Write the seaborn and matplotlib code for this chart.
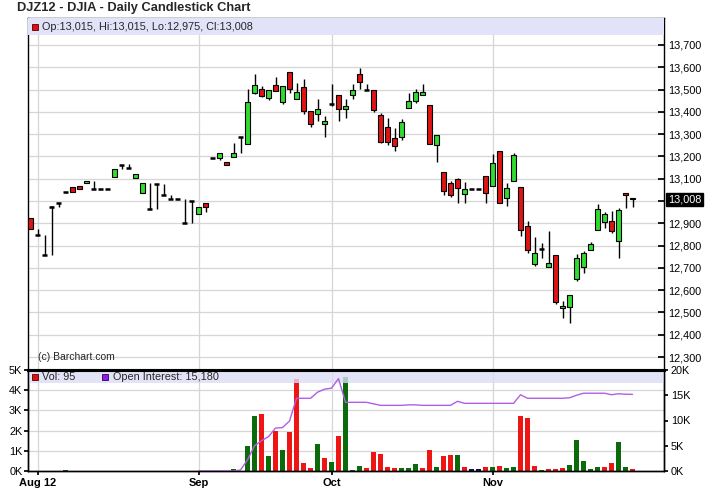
import numpy as np
import pandas as pd
import seaborn as sns
import matplotlib
matplotlib.use("Agg")
import matplotlib.pyplot as plt
from matplotlib.patches import Rectangle
from matplotlib.transforms import blended_transform_factory

# daily OHLC, Jul 31 .. Nov 30 2012 (trading days, Sandy days included as flat)
opens = [12922, 12850, 12760, 12976, 12990, 13040, 13062, 13068, 13080, 13055,
         13054, 13054, 13106, 13163, 13147, 13102, 13035, 12964, 13076, 13027,
         13008, 13008, 12903, 13000, 12942, 12990, 13194, 13194, 13174, 13196,
         13286, 13254, 13486, 13501, 13461, 13521, 13446, 13578, 13456, 13510,
         13404, 13389, 13344, 13437, 13476, 13412, 13474, 13569, 13499, 13498,
         13386, 13333, 13281, 13286, 13416, 13450, 13474, 13431, 13251, 13129,
         13080, 13099, 13030, 13052, 13052, 13114, 13069, 13224, 13012, 13088,
         13062, 12888, 12716, 12785, 12706, 12758, 12519, 12526, 12649, 12705,
         12780, 12870, 12905, 12910, 12821, 13035, 13015]
highs = [12922, 12873, 12848, 12978, 12990, 13040, 13062, 13068, 13088, 13088,
         13054, 13054, 13142, 13163, 13166, 13120, 13080, 13080, 13076, 13076,
         13027, 13008, 13008, 13000, 12972, 12990, 13194, 13217, 13174, 13262,
         13286, 13501, 13570, 13516, 13498, 13558, 13516, 13578, 13528, 13546,
         13404, 13456, 13381, 13525, 13476, 13456, 13525, 13595, 13525, 13498,
         13394, 13371, 13329, 13367, 13483, 13501, 13525, 13431, 13296, 13129,
         13090, 13105, 13084, 13052, 13052, 13114, 13211, 13224, 13082, 13214,
         13062, 12910, 12838, 12813, 12867, 12758, 12553, 12578, 12761, 12776,
         12816, 12987, 12951, 12955, 12967, 13035, 13015]
lows = [12873, 12846, 12758, 12758, 12975, 13038, 13040, 13054, 13080, 13054,
        13054, 13054, 13106, 13142, 13147, 13102, 13035, 12963, 12963, 13027,
        13008, 13008, 12903, 12903, 12940, 12952, 13194, 13184, 13160, 13196,
        13217, 13254, 13479, 13465, 13453, 13495, 13434, 13486, 13456, 13390,
        13333, 13359, 13289, 13428, 13359, 13374, 13456, 13501, 13498, 13401,
        13259, 13251, 13226, 13274, 13416, 13441, 13474, 13254, 13176, 13027,
        13017, 12990, 12990, 13052, 13052, 12990, 13069, 12993, 12979, 13088,
        12845, 12765, 12709, 12743, 12706, 12537, 12474, 12455, 12643, 12676,
        12780, 12870, 12878, 12855, 12743, 12967, 12975]
closes = [12873, 12848, 12758, 12975, 12989, 13039, 13040, 13054, 13088, 13054,
          13054, 13054, 13142, 13162, 13147, 13120, 13080, 12963, 13075, 13027,
          13008, 13008, 12903, 13000, 12972, 12975, 13194, 13217, 13160, 13217,
          13286, 13446, 13521, 13471, 13498, 13495, 13516, 13501, 13488, 13405,
          13344, 13414, 13358, 13437, 13412, 13426, 13498, 13535, 13498, 13408,
          13266, 13264, 13247, 13356, 13450, 13490, 13488, 13254, 13296, 13045,
          13026, 13057, 13052, 13052, 13052, 13035, 13169, 12993, 13057, 13207,
          12870, 12780, 12768, 12785, 12721, 12548, 12529, 12578, 12743, 12765,
          12806, 12963, 12940, 12866, 12960, 13026, 13008]
volume_k = [0, 0, 0, 0, 0, 0.03, 0, 0, 0, 0,
            0, 0, 0, 0, 0, 0, 0, 0, 0, 0,
            0, 0, 0, 0, 0, 0, 0, 0, 0, 0.1,
            0, 1.26, 2.71, 2.81, 0.75, 1.98, 1.06, 1.91, 4.54, 0.39,
            0.15, 1.36, 0.65, 0.45, 1.71, 4.66, 0.05, 0.25, 0.15, 0.95,
            0.85, 0.2, 0.17, 0.17, 0.17, 0.35, 0.17, 1.06, 0.22, 0.72,
            0.79, 0.8, 0.22, 0.1, 0.1, 0.2, 0.2, 0.25, 0.17, 0.2,
            2.71, 2.61, 0.25, 0.05, 0.12, 0.12, 0.15, 0.3, 1.51, 0.5,
            0.1, 0.2, 0.2, 0.4, 1.46, 0.2, 0.095]
oi_first_day = 24
open_interest_k = [0, 0, 0, 0, 0, 0, 0.2, 2.2, 5.0, 6.0,
                   6.8, 8.5, 8.6, 9.9, 14.4, 14.4, 14.4, 15.6, 16.2, 16.4,
                   18.3, 13.6, 13.6, 13.6, 13.6, 13.3, 13.0, 13.0, 13.0, 13.0,
                   13.1, 13.1, 13.0, 13.0, 13.0, 13.0, 13.0, 13.8, 13.4, 13.4,
                   13.4, 13.4, 13.4, 13.4, 13.4, 13.4, 15.1, 14.4, 14.4, 14.4,
                   14.4, 14.4, 14.4, 14.5, 15.0, 15.4, 15.4, 15.4, 15.4, 15.1,
                   15.3, 15.2, 15.18]

month_days = [1, 24, 43, 66]
month_labels = ["Aug 12", "Sep", "Oct", "Nov"]
price_ticks = [12300, 12400, 12500, 12600, 12700, 12800, 12900, 13000,
               13100, 13200, 13300, 13400, 13500, 13600, 13700]
last_price = 13008

sns.set_theme(style="white")
plt.rcParams['font.family'] = ['Liberation Sans', 'DejaVu Sans']

df = pd.DataFrame({"open": opens, "high": highs, "low": lows, "close": closes, "vol": volume_k})
df["day"] = np.arange(len(df))
chg = df["close"].diff().fillna(-1)
df["vcolor"] = np.where(chg > 0, "#0b6b0b", np.where(chg < 0, "#ee1515", "#101050"))

GRID = "#d6d6d6"
fig = plt.figure(figsize=(7.11, 4.94), dpi=100)
ax = fig.add_axes([28 / 711, 1 - 370 / 494, 636 / 711, 352 / 494])
axv = fig.add_axes([28 / 711, 1 - 471 / 494, 636 / 711, 101 / 494])

# ---- price panel
ax.set_xlim(-0.36, 90.5)
ax.set_ylim(12242, 13821)
for p in price_ticks:
    ax.axhline(p, color=GRID, lw=0.9, zorder=0)
for d in month_days:
    ax.axvline(d, color=GRID, lw=0.9, zorder=0)

ax.vlines(df["day"], df["low"], df["high"], color="black", lw=1, zorder=2)
body = df[(df["close"] - df["open"]).abs() >= 4]
flat = df[(df["close"] - df["open"]).abs() < 4]
up = body["close"] > body["open"]
ax.bar(body["day"], (body["close"] - body["open"]).abs(),
       bottom=body[["open", "close"]].min(axis=1), width=0.72,
       color=np.where(up, "#2fdc2f", "#e01414"), edgecolor="black",
       linewidth=0.8, zorder=3)
ax.hlines(flat["close"], flat["day"] - 0.4, flat["day"] + 0.4, color="black", lw=1.8, zorder=3)

ax.yaxis.tick_right()
ax.set_yticks(price_ticks)
ax.set_yticklabels(["" if p == 13000 else f"{p:,}" for p in price_ticks])
ax.tick_params(axis="y", direction="in", length=4, labelsize=7.8, pad=3, right=True, colors="black")
ax.set_xticks([])
for s in ax.spines.values():
    s.set_color("black")
    s.set_linewidth(1)

trans = blended_transform_factory(ax.transAxes, ax.transData)
ax.text(1.006, last_price, f"{last_price:,}", transform=trans, color="white", fontsize=7.8,
        va="center", ha="left", bbox=dict(facecolor="black", edgecolor="black", pad=1.0))

ax.add_patch(Rectangle((0, 0.952), 1, 0.048, transform=ax.transAxes, facecolor="#e2e2f8",
                       edgecolor="none", zorder=4))
ax.plot([0.0105], [0.975], marker="s", ms=5, color="#dd1111", mec="#550000", mew=0.6,
        transform=ax.transAxes, zorder=5)
ax.text(0.0225, 0.975, "Op:13,015, Hi:13,015, Lo:12,975, Cl:13,008", transform=ax.transAxes,
        fontsize=7.8, va="center", zorder=5)
ax.text(0.0155, 0.037, "(c) Barchart.com", transform=ax.transAxes, fontsize=7.5, va="center")

# ---- volume panel
axv.set_xlim(-0.36, 90.5)
axv.set_ylim(0, 5)
for v in [1, 2, 3, 4]:
    axv.axhline(v, color=GRID, lw=0.9, zorder=0)
for d in month_days:
    axv.axvline(d, color=GRID, lw=0.9, zorder=0)
axv.bar(df["day"], df["vol"], width=0.72, color=df["vcolor"], linewidth=0, zorder=2)
axv.set_yticks([0, 1, 2, 3, 4, 5])
axv.set_yticklabels(["0K", "1K", "2K", "3K", "4K", "5K"])
axv.tick_params(axis="y", direction="out", length=3, labelsize=7.8, pad=1, left=True, colors="black")
axv.set_xticks(month_days)
axv.set_xticklabels(month_labels, fontweight="bold")
axv.tick_params(axis="x", direction="out", length=3, labelsize=8, pad=2, bottom=True, colors="black")
axv.add_patch(Rectangle((0, 0.87), 1, 0.13, transform=axv.transAxes, facecolor="#dcdcf6",
                        edgecolor="none", alpha=0.8, zorder=4))

axr = axv.twinx()
axr.set_ylim(0, 20)
oi = pd.DataFrame({"day": np.arange(oi_first_day, oi_first_day + len(open_interest_k)),
                   "oi": open_interest_k})
sns.lineplot(data=oi, x="day", y="oi", ax=axr, color="#b05ee6", lw=1)
axr.set_xlim(-0.36, 90.5)
axr.set_ylabel("")
axv.set_xlabel("")
axr.set_yticks([0, 5, 10, 15, 20])
axr.set_yticklabels(["0K", "5K", "10K", "15K", "20K"])
axr.tick_params(axis="y", direction="out", length=3, labelsize=7.8, pad=2, right=True, colors="black")
for a in (axv, axr):
    for s in a.spines.values():
        s.set_color("black")
        s.set_linewidth(1)
    a.spines["top"].set_linewidth(2.2)

axv.plot([0.0105], [0.93], marker="s", ms=5, color="#dd1111", mec="#550000", mew=0.6,
         transform=axv.transAxes, zorder=5)
axv.text(0.0225, 0.93, "Vol: 95", transform=axv.transAxes, fontsize=7.8, va="center", zorder=5)
axv.plot([0.121], [0.93], marker="s", ms=5, color="#8a1ee8", mec="#330055", mew=0.6,
         transform=axv.transAxes, zorder=5)
axv.text(0.134, 0.93, "Open Interest: 15,180", transform=axv.transAxes, fontsize=7.8,
         va="center", zorder=5)

fig.text(17 / 711, 1 - 8 / 494, "DJZ12 - DJIA - Daily Candlestick Chart", fontsize=9.3,
         fontweight="bold", va="center", ha="left")

fig.savefig("out.png", dpi=100)
